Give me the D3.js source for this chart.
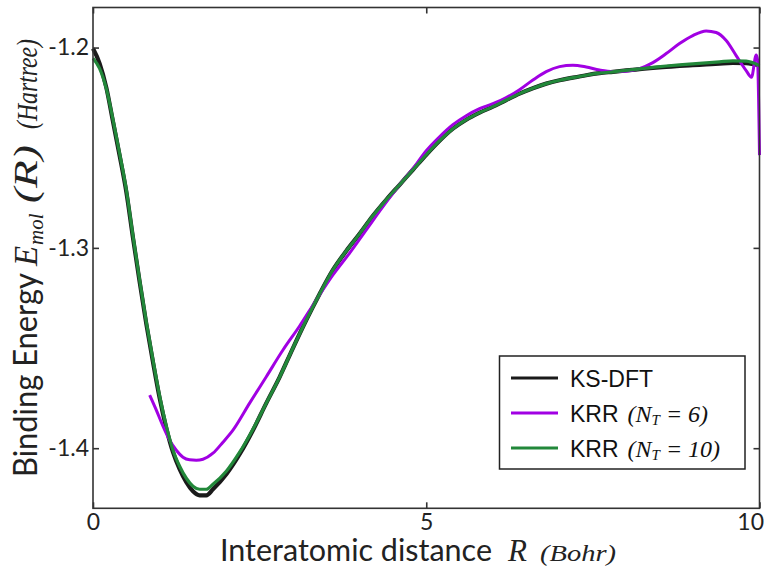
<!DOCTYPE html>
<html><head><meta charset="utf-8">
<script src="https://cdn.jsdelivr.net/npm/d3@7/dist/d3.min.js"></script>
<style>body{margin:0;background:#fff}svg{display:block}</style>
</head><body>
<svg id="c" width="764" height="566"></svg>
<script>
// ---- data ----
const ksR = [0,0.1,0.2,0.3,0.4,0.5,0.6,0.7,0.8,0.9,1.0,1.1,1.2,1.3,1.4,1.5,1.6,1.7,1.8,2.0,2.2,2.4,2.6,2.8,3.0,3.2,3.4,3.6,3.8,4.0,4.2,4.4,4.6,4.8,5.0,5.2,5.4,5.6,5.8,6.0,6.2,6.4,6.6,6.8,7.0,7.2,7.4,7.6,7.8,8.0,8.2,8.4,8.6,8.8,9.0,9.2,9.4,9.6,9.8,10.0];
const ksE = [-1.2005,-1.208,-1.220,-1.237,-1.254,-1.272,-1.295,-1.317,-1.338,-1.357,-1.375,-1.390,-1.402,-1.4105,-1.417,-1.4215,-1.4235,-1.4235,-1.4205,-1.413,-1.403,-1.391,-1.3775,-1.3645,-1.350,-1.336,-1.323,-1.311,-1.3015,-1.293,-1.284,-1.276,-1.2685,-1.261,-1.2535,-1.2465,-1.2405,-1.236,-1.2325,-1.2295,-1.2262,-1.223,-1.2203,-1.218,-1.2163,-1.215,-1.2138,-1.2128,-1.2121,-1.2114,-1.2108,-1.2102,-1.2097,-1.2092,-1.2088,-1.2084,-1.208,-1.2077,-1.2078,-1.209];
const n10R = [0,0.1,0.2,0.3,0.4,0.5,0.6,0.7,0.8,0.9,1.0,1.1,1.2,1.3,1.4,1.5,1.6,1.7,1.8,2.0,2.2,2.4,2.6,2.8,3.0,3.2,3.4,3.6,3.8,4.0,4.2,4.4,4.6,4.8,5.0,5.2,5.4,5.6,5.8,6.0,6.2,6.4,6.6,6.8,7.0,7.2,7.4,7.6,7.8,8.0,8.2,8.4,8.6,8.8,9.0,9.2,9.4,9.6,9.8,10.0];
const n10E = [-1.2053,-1.2105,-1.2205,-1.236,-1.253,-1.271,-1.294,-1.316,-1.337,-1.356,-1.374,-1.389,-1.401,-1.409,-1.415,-1.419,-1.4205,-1.4205,-1.418,-1.4115,-1.402,-1.3905,-1.3775,-1.3645,-1.350,-1.336,-1.323,-1.311,-1.3015,-1.293,-1.284,-1.276,-1.2685,-1.261,-1.2535,-1.2465,-1.2405,-1.236,-1.2325,-1.2295,-1.2262,-1.223,-1.2203,-1.218,-1.2163,-1.215,-1.2138,-1.2128,-1.2121,-1.2114,-1.2106,-1.2099,-1.2092,-1.2086,-1.2081,-1.2076,-1.2071,-1.2066,-1.2068,-1.209];
const n6R = [0.85,0.95,1.05,1.15,1.25,1.35,1.45,1.55,1.65,1.8,1.95,2.1,2.35,2.6,2.85,3.1,3.35,3.6,3.85,4.1,4.35,4.6,4.8,5.0,5.2,5.4,5.6,5.8,6.0,6.2,6.4,6.6,6.8,7.0,7.2,7.4,7.6,7.8,8.0,8.2,8.4,8.6,8.8,9.0,9.2,9.35,9.5,9.65,9.8,9.88,9.95,9.97,10.0];
const n6E = [-1.3735,-1.381,-1.389,-1.396,-1.401,-1.4045,-1.4058,-1.406,-1.4055,-1.4025,-1.397,-1.391,-1.3775,-1.3643,-1.351,-1.339,-1.326,-1.3135,-1.3026,-1.291,-1.2794,-1.2685,-1.2605,-1.2515,-1.2445,-1.2385,-1.234,-1.2305,-1.228,-1.225,-1.221,-1.2162,-1.212,-1.2095,-1.2088,-1.2097,-1.2112,-1.212,-1.2118,-1.2105,-1.2075,-1.203,-1.198,-1.194,-1.1917,-1.1925,-1.1965,-1.204,-1.2115,-1.2148,-1.2037,-1.206,-1.2537];
const xTicks = [0,5,10];
const xTickLabels = ["0","5","10"];
const yTicks = [-1.4,-1.3,-1.2];
const yTickLabels = ["-1.4","-1.3","-1.2"];
const seriesNames = ["KS-DFT","KRR","KRR"];
const seriesMath = ["","6","10"];
const colors = ["#1a1a1a","#a100e3","#22883a"];

// ---- layout ----
const svg = d3.select("#c");
const L = 93, R = 759.5, T = 7.5, B = 508.3;
const x = d3.scaleLinear().domain([0,10]).range([L,R]);
const y = d3.scaleLinear().domain([-1.43,-1.18]).range([B,T]);
const sans = "Lato, 'DejaVu Sans', sans-serif";
const serif = "'Liberation Serif', 'DejaVu Serif', serif";

const zip = (a,b) => a.map((v,i)=>[v,b[i]]);
const line = d3.line().x(d=>x(d[0])).y(d=>y(d[1])).curve(d3.curveMonotoneX);

const series = [zip(ksR,ksE), zip(n6R,n6E), zip(n10R,n10E)];
const widths = [4.2,3,3.2];
series.forEach((s,i)=>{
  svg.append("path").attr("d",line(s)).attr("fill","none")
    .attr("stroke",colors[i]).attr("stroke-width",widths[i])
    .attr("stroke-linejoin","round").attr("stroke-linecap","butt");
});

// frame
svg.append("rect").attr("x",L).attr("y",T).attr("width",R-L).attr("height",B-T)
  .attr("fill","none").attr("stroke","#333").attr("stroke-width",1.6);

// axes (inward ticks on all sides)
const tk = 6;
const axB = svg.append("g").attr("transform",`translate(0,${B})`)
  .call(d3.axisBottom(x).tickValues(xTicks).tickSize(-tk).tickPadding(5).tickFormat((d,i)=>xTickLabels[i]));
const axT = svg.append("g").attr("transform",`translate(0,${T})`)
  .call(d3.axisTop(x).tickValues(xTicks).tickSize(-tk).tickFormat(""));
const axL = svg.append("g").attr("transform",`translate(${L},0)`)
  .call(d3.axisLeft(y).tickValues(yTicks).tickSize(-tk).tickPadding(4).tickFormat((d,i)=>yTickLabels[i]));
const axR = svg.append("g").attr("transform",`translate(${R},0)`)
  .call(d3.axisRight(y).tickValues(yTicks).tickSize(-tk).tickFormat(""));
[axB,axT,axL,axR].forEach(a=>{
  a.select(".domain").remove();
  a.selectAll(".tick line").attr("stroke","#333").attr("stroke-width",1.6);
  a.selectAll("text").attr("font-family",sans).attr("font-size",23).attr("fill","#222");
});
axB.selectAll(".tick text").filter((d,i)=>i===xTicks.length-1).attr("text-anchor","end").attr("x",4);

// x label
const xlab = svg.append("g").attr("fill","#222");
xlab.append("text").attr("x",220).attr("y",561).attr("font-family",sans).attr("font-size",30)
  .attr("textLength",272).attr("lengthAdjust","spacingAndGlyphs").text("Interatomic distance");
xlab.append("text").attr("x",508).attr("y",561).attr("font-family",serif).attr("font-style","italic")
  .attr("font-size",31).text("R");
xlab.append("text").attr("x",540).attr("y",561).attr("font-family",serif).attr("font-style","italic")
  .attr("font-size",24).attr("textLength",76).attr("lengthAdjust","spacingAndGlyphs").text("(Bohr)");

// y label (rotated pieces)
const ylab = svg.append("g").attr("fill","#222");
const ypiece = (py, dx, txt, fam, size, italic, len) => {
  const t = ylab.append("text").attr("transform",`translate(${37+dx},${py}) rotate(-90)`)
    .attr("font-family",fam).attr("font-size",size).text(txt);
  if (italic) t.attr("font-style","italic");
  if (len) t.attr("textLength",len).attr("lengthAdjust","spacingAndGlyphs");
  return t;
};
ypiece(477, 0, "Binding Energy", sans, 32, false, 204);
ypiece(266, 0, "E", serif, 33, true);
ypiece(245, 6, "mol", serif, 21, true);
ypiece(203, 0, "(R)", serif, 34, true, 58);
ypiece(129, 0, "(Hartree)", serif, 30, true, 90);

// legend
const lg = svg.append("g");
lg.append("rect").attr("x",499.5).attr("y",356).attr("width",245.5).attr("height",113)
  .attr("fill","#fff").attr("stroke","#222").attr("stroke-width",1.5);
const rows = [378,413,448];
rows.forEach((ry,i)=>{
  lg.append("line").attr("x1",511).attr("x2",558).attr("y1",ry).attr("y2",ry)
    .attr("stroke",colors[i]).attr("stroke-width",3);
  const t = lg.append("text").attr("x",570).attr("y",ry+8.5).attr("fill","#111");
  t.append("tspan").attr("font-family","'Liberation Sans', Arial, sans-serif").attr("font-size",23).text(seriesNames[i]);
  if (seriesMath[i]) {
    t.append("tspan").attr("font-family",serif).attr("font-style","italic").attr("font-size",24).attr("dx",9).text("(N");
    t.append("tspan").attr("font-family",serif).attr("font-style","italic").attr("font-size",15).attr("dy",3).text("T");
    t.append("tspan").attr("font-family",serif).attr("font-style","italic").attr("font-size",24).attr("dy",-3).text(" = " + seriesMath[i] + ")");
  }
});
</script>
</body></html>
